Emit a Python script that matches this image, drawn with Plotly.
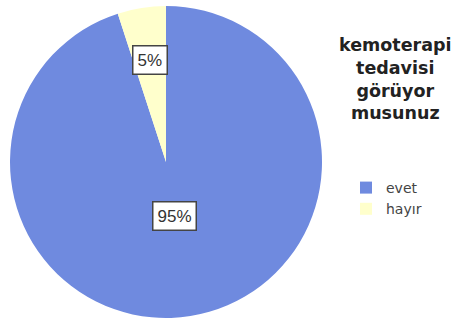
import math
import plotly.graph_objects as go

labels = ["evet", "hayır"]
values = [95, 5]
colors = ["#6F8ADF", "#FFFFCC"]
title_lines = ["kemoterapi", "tedavisi", "görüyor", "musunuz"]

W, H = 457, 324
cx, cy, R = 166, 162, 156  # pie placement in pixels
label_r = [0.35, 0.66]

fig = go.Figure(go.Pie(
    labels=labels, values=values, sort=False, direction="clockwise", rotation=0,
    marker=dict(colors=colors, line=dict(width=0)),
    textinfo="none", hoverinfo="label+percent",
    domain=dict(x=[(cx - R) / W, (cx + R) / W], y=[1 - (cy + R) / H, 1 - (cy - R) / H]),
))

# boxed percentage labels placed at each slice's mid-angle
total = sum(values)
cum = 0
for v, fr in zip(values, label_r):
    mid = (cum + v / 2) / total * 2 * math.pi
    cum += v
    px = cx + math.sin(mid) * R * fr
    py = cy - math.cos(mid) * R * fr
    fig.add_annotation(
        x=px / W, y=1 - py / H, xref="paper", yref="paper", showarrow=False,
        xanchor="center", yanchor="middle",
        text=f"{round(v / total * 100)}%",
        font=dict(family="Liberation Sans, Arial", size=17, color="#333"),
        bgcolor="white", bordercolor="#444", borderwidth=1.5, borderpad=4,
    )

fig.add_annotation(
    x=395 / W, y=1 - 79 / H, xref="paper", yref="paper", showarrow=False,
    text="<b>" + "<br>".join(title_lines) + "</b>", align="center",
    font=dict(family="DejaVu Sans", size=17.5, color="#222"),
    xanchor="center", yanchor="middle",
)

fig.update_layout(
    width=W, height=H, margin=dict(l=0, r=0, t=0, b=0),
    paper_bgcolor="white", plot_bgcolor="white",
    showlegend=True,
    legend=dict(x=346 / W, y=1 - 172 / H, xanchor="left", yanchor="top",
                font=dict(family="DejaVu Sans", size=14, color="#444"),
                bgcolor="rgba(0,0,0,0)"),
)

fig.write_html("out.html", config={"displayModeBar": False},
               post_script="document.body.style.margin='0';")
